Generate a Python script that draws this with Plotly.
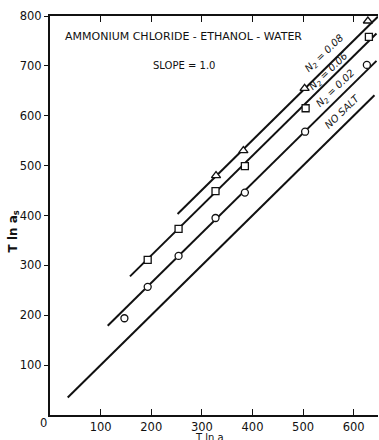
import plotly.graph_objects as go

# Fitted lines, all with slope 1.0: intercept and x extent of each
line_names = ["NO SALT", "N2 = 0.02", "N2 = 0.06", "N2 = 0.08"]
line_slope = 1.0
line_intercepts = [0, 65, 120, 151]
line_x_start = [35, 114, 158, 252]
line_x_end = [641, 645, 645, 648]

# Measured points (T ln a, T ln a_s)
n002_x = [147, 193, 254, 327, 385, 504, 626]
n002_y = [194, 257, 319, 395, 446, 568, 702]
n006_x = [193, 254, 327, 385, 505, 630]
n006_y = [311, 373, 449, 499, 615, 758]
n008_x = [328, 382, 503, 628]
n008_y = [480, 530, 655, 790]

x_ticks = [100, 200, 300, 400, 500, 600]
y_ticks = [100, 200, 300, 400, 500, 600, 700, 800]

FONT = "DejaVu Sans"
INK = "#111111"

fig = go.Figure()

for b, x0, x1 in zip(line_intercepts, line_x_start, line_x_end):
    xs = [x0, x1]
    ys = [line_slope * v + b for v in xs]
    fig.add_trace(go.Scatter(x=xs, y=ys, mode="lines",
                             line=dict(color=INK, width=2),
                             showlegend=False, hoverinfo="skip"))

marker_style = dict(color="white", line=dict(color=INK, width=1.3))
fig.add_trace(go.Scatter(x=n002_x, y=n002_y, mode="markers",
                         marker=dict(symbol="circle", size=7, **marker_style),
                         showlegend=False))
fig.add_trace(go.Scatter(x=n006_x, y=n006_y, mode="markers",
                         marker=dict(symbol="square", size=7, **marker_style),
                         showlegend=False))
fig.add_trace(go.Scatter(x=n008_x, y=n008_y, mode="markers",
                         marker=dict(symbol="triangle-up", size=8, **marker_style),
                         showlegend=False))

X_RANGE = [0, 648]
Y_RANGE = [0, 800]

fig.update_layout(
    width=379, height=440,
    margin=dict(l=50, r=1, t=16, b=25),
    paper_bgcolor="white", plot_bgcolor="white",
    font=dict(family=FONT, size=11, color=INK),
    xaxis=dict(range=X_RANGE, tickvals=x_ticks, ticktext=[str(v) for v in x_ticks],
               ticks="inside", ticklen=6, tickwidth=1.2, tickcolor=INK,
               showline=True, linecolor=INK, linewidth=2, mirror="ticks",
               showgrid=False, zeroline=False,
               tickfont=dict(family=FONT, size=11.5, color=INK)),
    yaxis=dict(range=Y_RANGE, tickvals=y_ticks, ticktext=[str(v) for v in y_ticks],
               ticks="outside", ticklen=4, tickwidth=1.2, tickcolor=INK,
               showline=True, linecolor=INK, linewidth=2,
               showgrid=False, zeroline=False,
               tickfont=dict(family=FONT, size=11.5, color=INK)),
    yaxis2=dict(range=Y_RANGE, overlaying="y", side="right",
                tickvals=y_ticks[:-1], ticks="inside", ticklen=5, tickwidth=1.2,
                tickcolor=INK, showticklabels=False,
                showline=True, linecolor=INK, linewidth=1.5,
                showgrid=False, zeroline=False),
)

annotations = [
    dict(text="AMMONIUM CHLORIDE - ETHANOL - WATER", x=263, y=758, size=11),
    dict(text="SLOPE = 1.0", x=264, y=700, size=10),
    dict(text="<i>N<sub>2</sub> = 0.08</i>", x=543, y=725, textangle=-44, size=10),
    dict(text="<i>N<sub>2</sub> = 0.06</i>", x=551, y=689, textangle=-44, size=10),
    dict(text="<i>N<sub>2</sub> = 0.02</i>", x=565, y=655, textangle=-44, size=10),
    dict(text="<i>NO SALT</i>", x=577, y=609, textangle=-44, size=10),
]
for a in annotations:
    size = a.pop("size")
    fig.add_annotation(xref="x", yref="y", showarrow=False,
                       font=dict(family=FONT, color=INK, size=size), **a)

# origin label and axis titles
fig.add_annotation(text="0", xref="paper", yref="paper", x=0, y=0,
                   xshift=-7, yshift=-8, xanchor="center", yanchor="middle",
                   showarrow=False, font=dict(family=FONT, size=11.5, color=INK))
fig.add_annotation(text="T ln a", xref="paper", yref="paper", x=0.485, y=0,
                   yshift=-15, xanchor="center", yanchor="top",
                   showarrow=False, font=dict(family=FONT, size=10, color=INK))
fig.add_annotation(text="<b>T ln a<sub>s</sub></b>", xref="paper", yref="paper", x=0,
                   y=0.46, xshift=-36, textangle=-90, xanchor="center",
                   yanchor="middle", showarrow=False,
                   font=dict(family=FONT, size=12, color=INK))

fig.write_html("out.html")
